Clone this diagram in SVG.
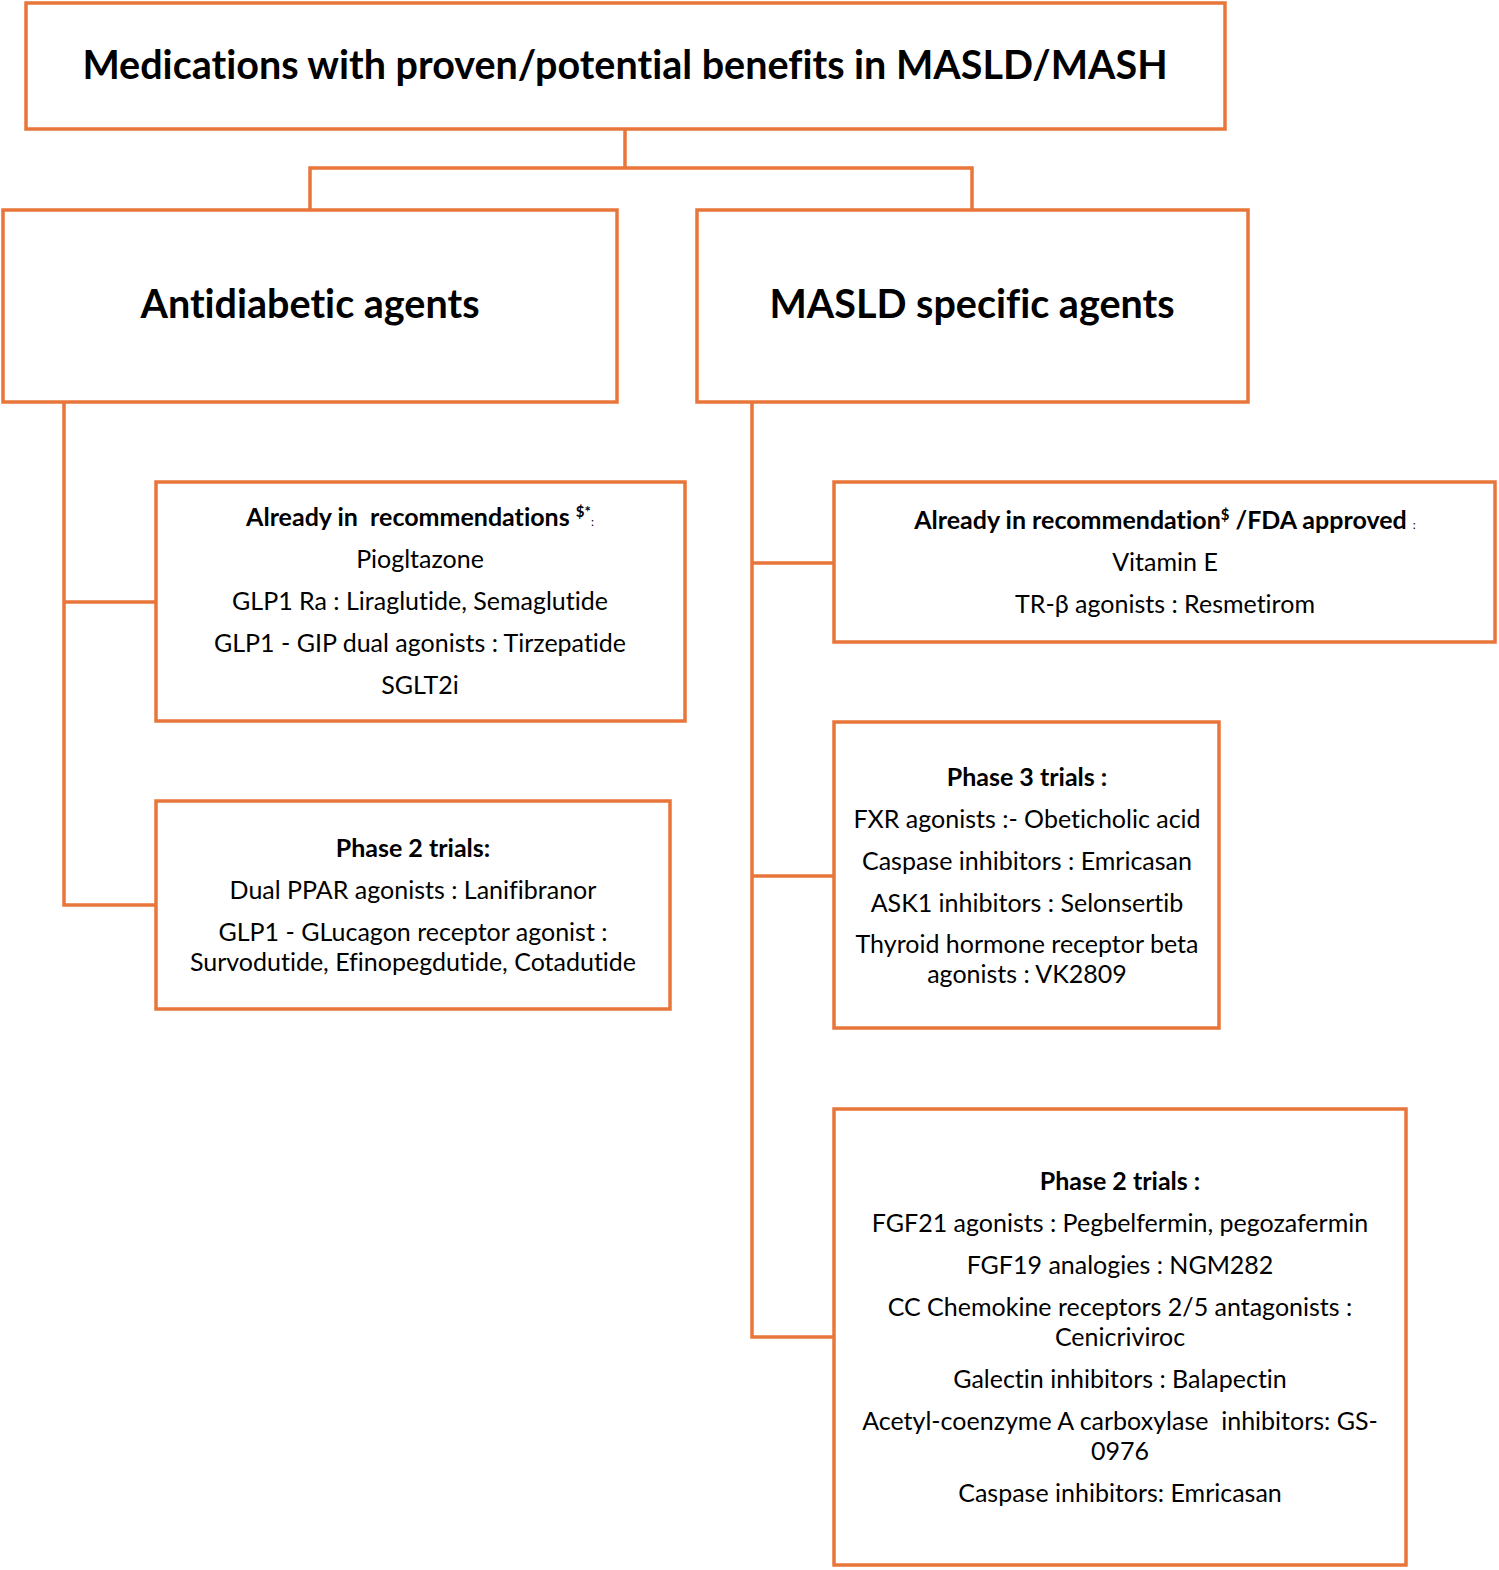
<svg xmlns="http://www.w3.org/2000/svg" width="1499" height="1570" viewBox="0 0 1499 1570">
<style>
.box{fill:#fff;stroke:#E8763A;stroke-width:3.5}
.ln{fill:none;stroke:#E8763A;stroke-width:3.5}
text{font-family:Lato,"Liberation Sans",sans-serif;fill:#000;text-anchor:middle;font-variant-ligatures:none;white-space:pre}
.h1{font-size:39.5px;font-weight:bold}
.hd{font-size:25px;font-weight:bold}
.tx{font-size:25px}
.sup{font-size:15px}
.sm{font-size:12px;font-weight:normal}
</style>
<rect width="1499" height="1570" fill="#fff"/>
<g id="connectors">
<path class="ln" d="M625,129 V168 M310,210 V168 H972 V210"/>
<path class="ln" d="M64,402 V905 H156 M64,602 H156"/>
<path class="ln" d="M752,402 V1337 H834 M752,563 H834 M752,876 H834"/>
</g>
<g id="title">
<rect class="box" x="26" y="3" width="1199" height="126"/>
<text class="h1" x="625" y="79">Medications with proven/potential benefits in MASLD/MASH</text>
</g>
<g id="antidiabetic">
<rect class="box" x="3" y="210" width="614" height="192"/>
<text class="h1" x="310" y="318">Antidiabetic agents</text>
</g>
<g id="masld">
<rect class="box" x="697" y="210" width="551" height="192"/>
<text class="h1" x="972" y="318">MASLD specific agents</text>
</g>
<g id="anti-rec">
<rect class="box" x="156" y="482" width="529" height="239"/>
<text class="hd" x="420" y="526">Already in  recommendations <tspan class="sup" dy="-9">$*</tspan><tspan class="sm" dy="9">:</tspan></text>
<text class="tx" x="420" y="568">Piogltazone</text>
<text class="tx" x="420" y="610">GLP1 Ra : Liraglutide, Semaglutide</text>
<text class="tx" x="420" y="652">GLP1 - GIP dual agonists : Tirzepatide</text>
<text class="tx" x="420" y="694">SGLT2i</text>
</g>
<g id="anti-phase2">
<rect class="box" x="156" y="801" width="514" height="208"/>
<text class="hd" x="413" y="857">Phase 2 trials:</text>
<text class="tx" x="413" y="899">Dual PPAR agonists : Lanifibranor</text>
<text class="tx" x="413" y="941">GLP1 - GLucagon receptor agonist :</text>
<text class="tx" x="413" y="971">Survodutide, Efinopegdutide, Cotadutide</text>
</g>
<g id="masld-rec">
<rect class="box" x="834" y="482" width="661" height="160"/>
<text class="hd" x="1165" y="529">Already in recommendation<tspan class="sup" dy="-9">$</tspan><tspan dy="9"> /FDA approved </tspan><tspan class="sm">:</tspan></text>
<text class="tx" x="1165" y="571">Vitamin E</text>
<text class="tx" x="1165" y="613">TR-β agonists : Resmetirom</text>
</g>
<g id="masld-phase3">
<rect class="box" x="834" y="722" width="385" height="306"/>
<text class="hd" x="1027" y="786">Phase 3 trials :</text>
<text class="tx" x="1027" y="828">FXR agonists :- Obeticholic acid</text>
<text class="tx" x="1027" y="870">Caspase inhibitors : Emricasan</text>
<text class="tx" x="1027" y="912">ASK1 inhibitors : Selonsertib</text>
<text class="tx" x="1027" y="953">Thyroid hormone receptor beta</text>
<text class="tx" x="1027" y="983">agonists : VK2809</text>
</g>
<g id="masld-phase2">
<rect class="box" x="834" y="1109" width="572" height="456"/>
<text class="hd" x="1120" y="1190">Phase 2 trials :</text>
<text class="tx" x="1120" y="1232">FGF21 agonists : Pegbelfermin, pegozafermin</text>
<text class="tx" x="1120" y="1274">FGF19 analogies : NGM282</text>
<text class="tx" x="1120" y="1316">CC Chemokine receptors 2/5 antagonists :</text>
<text class="tx" x="1120" y="1346">Cenicriviroc</text>
<text class="tx" x="1120" y="1388">Galectin inhibitors : Balapectin</text>
<text class="tx" x="1120" y="1430">Acetyl-coenzyme A carboxylase  inhibitors: GS-</text>
<text class="tx" x="1120" y="1460">0976</text>
<text class="tx" x="1120" y="1502">Caspase inhibitors: Emricasan</text>
</g>
</svg>
